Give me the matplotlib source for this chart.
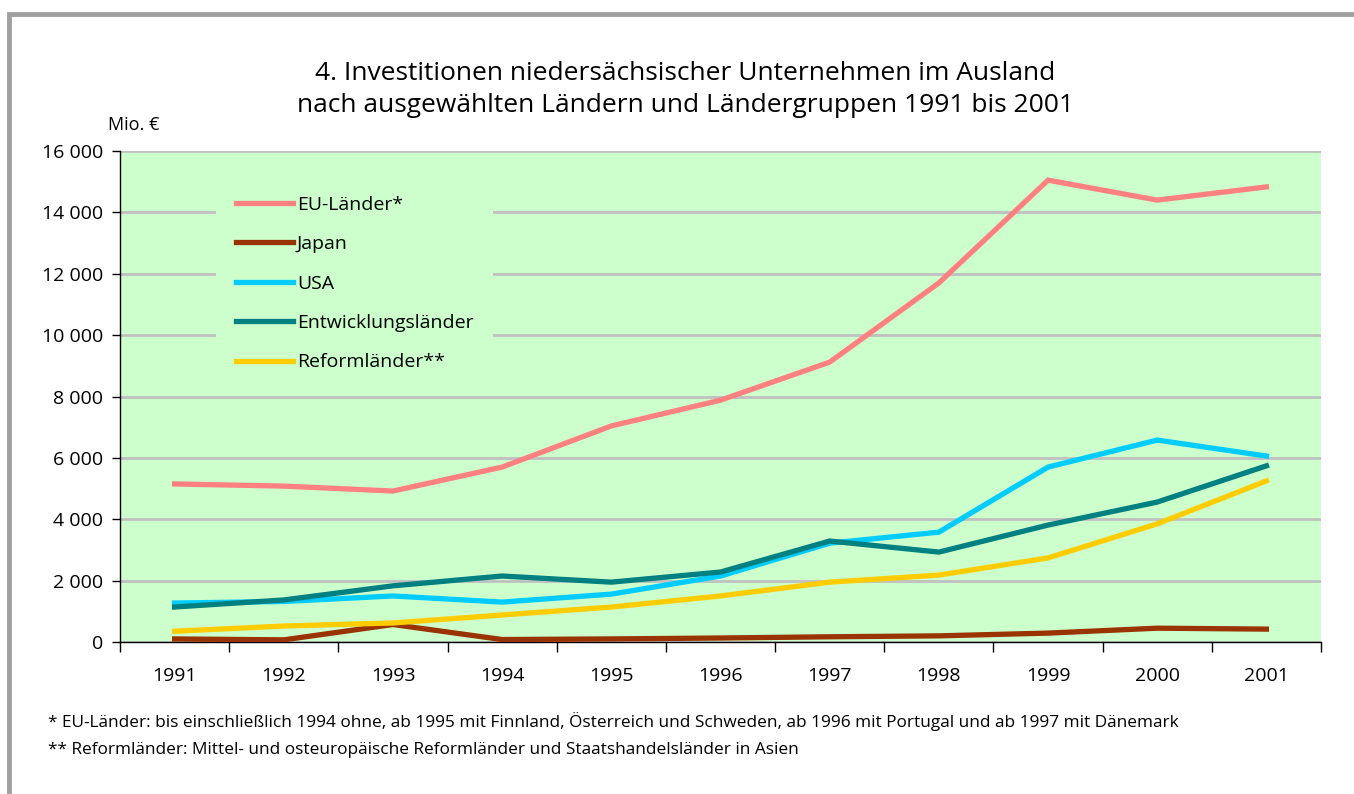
import numpy as np
import matplotlib
matplotlib.use("Agg")
import matplotlib.pyplot as plt
from matplotlib.patches import Rectangle

plt.rcParams['font.family'] = ['Open Sans', 'DejaVu Sans']

years = ['1991', '1992', '1993', '1994', '1995', '1996', '1997', '1998', '1999', '2000', '2001']

# Mio. Euro
eu = [5150, 5080, 4920, 5700, 7040, 7880, 9120, 11700, 15050, 14400, 14830]
japan = [100, 70, 570, 80, 100, 130, 170, 200, 290, 450, 420]
usa = [1270, 1320, 1500, 1300, 1560, 2150, 3220, 3580, 5700, 6580, 6060]
entw = [1140, 1370, 1830, 2150, 1950, 2280, 3290, 2930, 3810, 4560, 5740]
reform = [350, 520, 620, 880, 1140, 1500, 1950, 2180, 2740, 3850, 5250]

series = [
    ('EU-Länder*', eu, '#FF8080'),
    ('Japan', japan, '#993300'),
    ('USA', usa, '#00CCFF'),
    ('Entwicklungsländer', entw, '#008080'),
    ('Reformländer**', reform, '#FFCC00'),
]

fig = plt.figure(figsize=(13.54, 7.94), dpi=100)

# grey frame (continues past right / bottom edge)
fig.patches.append(Rectangle((9 / 1354, -0.1), 1.2, (794 - 14) / 794 + 0.1,
                             transform=fig.transFigure, fill=False,
                             edgecolor='#A0A0A0', linewidth=3.5))

ax = fig.add_axes([120 / 1354, (794 - 642) / 794, 1201 / 1354, 491 / 794])
ax.set_facecolor('#CCFFCC')

x = np.arange(len(years))
for name, vals, col in series:
    ax.plot(x, vals, color=col, linewidth=3.8, label=name, zorder=3,
            solid_joinstyle='miter')

ax.set_xlim(-0.5, len(years) - 0.5)
ax.set_ylim(0, 16000)
ax.set_yticks(np.arange(0, 16001, 2000))
ax.set_yticklabels([f'{v:,}'.replace(',', ' ') for v in range(0, 16001, 2000)],
                   fontsize=14)
ax.yaxis.grid(True, color='#C0C0C0', linewidth=2)
ax.set_axisbelow(True)

ax.set_xticks(np.arange(-0.5, len(years), 1.0))
ax.set_xticklabels([])
ax.set_xticks(x, minor=True)
ax.set_xticklabels(years, minor=True, fontsize=14)
ax.tick_params(axis='x', which='major', length=7, width=1, direction='out')
ax.tick_params(axis='x', which='minor', length=0, pad=18)
ax.tick_params(axis='y', length=6, width=1, direction='out', pad=6)

for s in ['top', 'right']:
    ax.spines[s].set_visible(False)
for s in ['left', 'bottom']:
    ax.spines[s].set_color('black')
    ax.spines[s].set_linewidth(1)

leg = ax.legend(loc='upper left', bbox_to_anchor=(0.072, 0.968), fontsize=14,
                frameon=True, facecolor='#CCFFCC', edgecolor='none', framealpha=1,
                fancybox=False, handlelength=2.95, handletextpad=0.2,
                labelspacing=1.1, borderpad=1.0)
leg.set_zorder(4)

fig.text(0.506, 1 - 73 / 794, '4. Investitionen niedersächsischer Unternehmen im Ausland',
         ha='center', va='center', fontsize=19)
fig.text(0.506, 1 - 106 / 794, 'nach ausgewählten Ländern und Ländergruppen 1991 bis 2001',
         ha='center', va='center', fontsize=19)
fig.text(108 / 1354, 1 - 125 / 794, 'Mio. €', ha='left', va='center', fontsize=13)

fig.text(48 / 1354, 1 - 722 / 794,
         '* EU-Länder: bis einschließlich 1994 ohne, ab 1995 mit Finnland, Österreich und Schweden, '
         'ab 1996 mit Portugal und ab 1997 mit Dänemark',
         ha='left', va='center', fontsize=12.4)
fig.text(48 / 1354, 1 - 750 / 794,
         '** Reformländer: Mittel- und osteuropäische Reformländer und Staatshandelsländer in Asien',
         ha='left', va='center', fontsize=12.4)

fig.savefig('out.png', dpi=100)
